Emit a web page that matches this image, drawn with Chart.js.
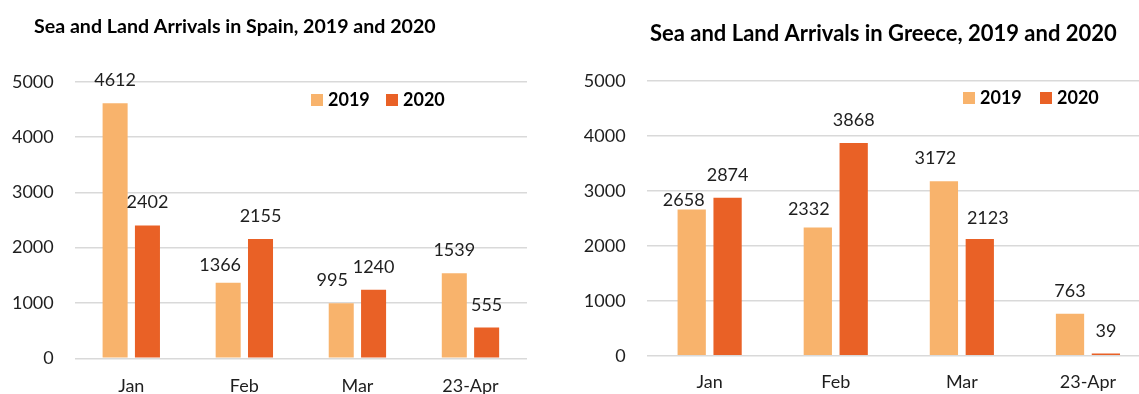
<!DOCTYPE html>
<html>
<head>
<meta charset="utf-8">
<script src="https://cdn.jsdelivr.net/npm/chart.js@4.4.1/dist/chart.umd.min.js"></script>
<style>
  html, body { margin: 0; padding: 0; background: #ffffff; }
  body { width: 1139px; height: 394px; overflow: hidden; position: relative; }
  canvas { position: absolute; top: 0; }
  #spain { left: 0; }
  #greece { left: 570px; }
</style>
</head>
<body>
<canvas id="spain" width="570" height="394"></canvas>
<canvas id="greece" width="600" height="394"></canvas>
<script>
// Categories and series
const categories = ['Jan', 'Feb', 'Mar', '23-Apr'];
const seriesNames = ['2019', '2020'];
const spain2019 = [4612, 1366, 995, 1539];
const spain2020 = [2402, 2155, 1240, 555];
const greece2019 = [2658, 2332, 3172, 763];
const greece2020 = [2874, 3868, 2123, 39];
const yTicks = [0, 1000, 2000, 3000, 4000, 5000];

const COLOR_2019 = '#F8B36C';
const COLOR_2020 = '#E96126';
const FONT = 'Lato, "Open Sans", sans-serif';
const TEXT = '#1e1e1e';

// Title, legend and value labels drawn on top of the bars
const decor = {
  id: 'decor',
  afterDatasetsDraw(chart, args, opts) {
    const ctx = chart.ctx;
    ctx.save();
    // value labels above each bar
    ctx.font = opts.valueFont;
    ctx.fillStyle = TEXT;
    ctx.textAlign = 'center';
    ctx.textBaseline = 'alphabetic';
    chart.data.datasets.forEach((ds, di) => {
      const meta = chart.getDatasetMeta(di);
      meta.data.forEach((bar, i) => {
        const n = (opts.nudges[di] && opts.nudges[di][i]) || [0, 0];
        ctx.fillText(String(ds.data[i]), bar.x + n[0], bar.y - opts.gap + n[1]);
      });
    });
    // title
    ctx.font = opts.titleFont;
    ctx.textAlign = 'left';
    ctx.fillStyle = '#000000';
    ctx.fillText(opts.title, opts.titleX, opts.titleY);
    // legend
    ctx.font = opts.legendFont;
    chart.data.datasets.forEach((ds, di) => {
      const x = opts.legendX[di];
      ctx.fillStyle = ds.backgroundColor;
      ctx.fillRect(x, opts.legendY, opts.box, opts.box);
      ctx.fillStyle = '#000000';
      ctx.fillText(ds.label, x + opts.box + 5, opts.legendY + opts.box);
    });
    ctx.restore();
  }
};

function makeChart(id, s2019, s2020, cfg) {
  return new Chart(document.getElementById(id), {
    type: 'bar',
    data: {
      labels: categories,
      datasets: [
        { label: seriesNames[0], data: s2019, backgroundColor: COLOR_2019 },
        { label: seriesNames[1], data: s2020, backgroundColor: COLOR_2020 }
      ]
    },
    options: {
      responsive: false,
      animation: false,
      devicePixelRatio: 1,
      categoryPercentage: cfg.catPct,
      barPercentage: cfg.barPct,
      layout: { padding: { left: 0, right: cfg.padRight, top: cfg.padTop, bottom: 0 } },
      plugins: {
        legend: { display: false },
        title: { display: false },
        tooltip: { enabled: false },
        decor: cfg.decor
      },
      scales: {
        x: {
          grid: { display: false, drawTicks: false },
          border: { display: false },
          ticks: { font: { family: FONT, size: 18 }, color: TEXT, padding: cfg.xPad, maxRotation: 0 },
          afterFit: (s) => { s.height = cfg.xHeight; }
        },
        y: {
          min: 0,
          max: 5000,
          afterBuildTicks: (s) => { s.ticks = yTicks.map(v => ({ value: v })); },
          grid: { color: '#d9d9d9', lineWidth: 1.5, drawTicks: false },
          border: { display: false },
          ticks: {
            font: { family: FONT, size: 18 }, color: TEXT, padding: cfg.yPad,
            callback: (v) => String(v)
          },
          afterFit: (s) => { s.width = cfg.yWidth; }
        }
      }
    },
    plugins: [decor]
  });
}

function draw() {
  makeChart('spain', spain2019, spain2020, {
    catPct: 0.572, barPct: 0.774,
    padRight: 43, padTop: 81.7, xHeight: 35.7, xPad: 17, yPad: 21, yWidth: 74.75,
    decor: {
      title: 'Sea and Land Arrivals in Spain, 2019 and 2020',
      titleFont: 'bold 19.6px ' + FONT, titleX: 34, titleY: 33,
      legendFont: 'bold 18px ' + FONT, legendX: [311, 386], legendY: 94, box: 12,
      valueFont: '18px ' + FONT, gap: 17,
      nudges: [[[0, 0], [-8, 5], [-9, 0], [0, 0]], [[0, 0], [0, 0], [0, 0], [0, 0]]]
    }
  });
  makeChart('greece', greece2019, greece2020, {
    catPct: 0.569, barPct: 0.788,
    padRight: 19, padTop: 80.7, xHeight: 38.3, xPad: 16, yPad: 21, yWidth: 76.6,
    decor: {
      title: 'Sea and Land Arrivals in Greece, 2019 and 2020',
      titleFont: 'bold 22px ' + FONT, titleX: 80, titleY: 41,
      legendFont: 'bold 18px ' + FONT, legendX: [393, 470], legendY: 92, box: 12,
      valueFont: '18px ' + FONT, gap: 17,
      nudges: [[[-8, 13], [-9, 5], [-8.5, 0], [0, 0]], [[0, 0], [0, 0], [8, 2], [0, 0]]]
    }
  });
}

if (document.fonts && document.fonts.load) {
  Promise.all([
    document.fonts.load('18px Lato'),
    document.fonts.load('bold 18px Lato')
  ]).then(draw, draw);
} else {
  draw();
}
</script>
</body>
</html>
